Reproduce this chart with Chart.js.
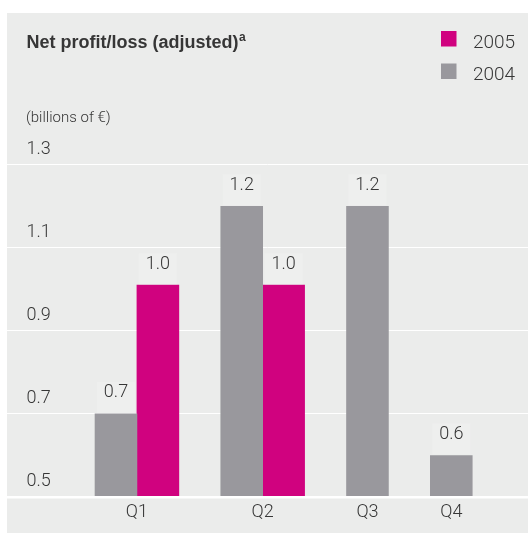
<!DOCTYPE html>
<html>
<head>
<meta charset="utf-8">
<title>Net profit/loss (adjusted)</title>
<script src="https://cdn.jsdelivr.net/npm/chart.js@4/dist/chart.umd.min.js"></script>
<style>
  html, body { margin: 0; padding: 0; background: #ffffff; }
  canvas { display: block; }
</style>
</head>
<body>
<canvas id="myChart" width="528" height="533"></canvas>
<script>
// chart data
var quarters = ["Q1", "Q2", "Q3", "Q4"];
var years = ["2004", "2005"];
var profit2004 = [0.7, 1.2, 1.2, 0.6];
var profit2005 = [1.01, 1.01, null, null];
var yTickValues = [0.5, 0.7, 0.9, 1.1, 1.3];

var titleText = "Net profit/loss (adjusted)";
var titleNote = "a";
var unitText = "(billions of \u20ac)";

var barColors = ["#99989d", "#d0027f"];
var panelColor = "#ebeceb";
var textColor = "#363636";
var labelFont = "Roboto, 'Liberation Sans', sans-serif";

// every quarter gets one slot per non-empty series, then one empty slot
var seriesValues = [profit2004, profit2005];
var barPoints = years.map(function () { return []; });
var quarterCenters = [];
var slot = 0;
quarters.forEach(function (q, i) {
  var first = slot;
  seriesValues.forEach(function (vals, s) {
    if (vals[i] !== null) {
      barPoints[s].push({ x: slot, y: vals[i] });
      slot++;
    }
  });
  quarterCenters.push((first + slot - 1) / 2);
  slot++;
});

var panelPlugin = {
  id: "panelPlugin",
  beforeDraw: function (chart) {
    var ctx = chart.ctx;
    ctx.save();
    ctx.fillStyle = panelColor;
    ctx.fillRect(7, 13, chart.width - 7, chart.height - 13);
    ctx.restore();
  },
  afterDatasetsDraw: function (chart) {
    var ctx = chart.ctx;
    ctx.save();
    chart.data.datasets.forEach(function (ds, di) {
      var meta = chart.getDatasetMeta(di);
      meta.data.forEach(function (bar, i) {
        ctx.fillStyle = "#eeefee";
        ctx.fillRect(bar.x - 19, bar.y - 32, 38, 31);
        ctx.fillStyle = textColor;
        ctx.font = "300 18px " + labelFont;
        ctx.textAlign = "center";
        ctx.textBaseline = "middle";
        ctx.fillText(ds.data[i].y.toFixed(1), bar.x, bar.y - 21);
      });
    });
    ctx.restore();
  },
  afterDraw: function (chart) {
    var ctx = chart.ctx;
    ctx.save();
    ctx.fillStyle = textColor;
    ctx.textBaseline = "alphabetic";
    ctx.textAlign = "left";

    // title with superscript note
    ctx.font = "bold 18px 'Liberation Sans', Arial, sans-serif";
    ctx.fillText(titleText, 26.5, 47.5);
    var w = ctx.measureText(titleText).width;
    ctx.font = "bold 12px 'Liberation Sans', Arial, sans-serif";
    ctx.fillText(titleNote, 26.5 + w + 0.5, 41);

    // unit
    ctx.font = "300 15px " + labelFont;
    ctx.fillText(unitText, 26, 122);

    // legend, newest year first
    var datasets = chart.data.datasets.slice().reverse();
    datasets.forEach(function (ds, i) {
      var y = 31 + i * 32.5;
      ctx.fillStyle = ds.backgroundColor;
      ctx.fillRect(441, y, 15.5, 15.5);
      ctx.fillStyle = textColor;
      ctx.font = "300 19px " + labelFont;
      ctx.fillText(ds.label, 473, y + 16.5);
    });
    ctx.restore();
  }
};

var ctx = document.getElementById("myChart").getContext("2d");

var myChart = new Chart(ctx, {
  type: "bar",
  data: {
    datasets: years.map(function (year, s) {
      return {
        label: year,
        data: barPoints[s],
        backgroundColor: barColors[s],
        borderWidth: 0
      };
    })
  },
  options: {
    responsive: false,
    animation: false,
    devicePixelRatio: 1,
    grouped: false,
    categoryPercentage: 1,
    barPercentage: 1,
    layout: {
      padding: { top: 164.7, left: 7, right: 0, bottom: 0 }
    },
    plugins: {
      legend: { display: false },
      tooltip: { enabled: false }
    },
    scales: {
      x: {
        type: "linear",
        offset: false,
        bounds: "data",
        min: -2.6,
        max: 9.83,
        grid: { display: false, drawTicks: false },
        border: { display: true, color: "#ffffff", width: 2.5, z: 1 },
        afterBuildTicks: function (scale) {
          scale.ticks = quarterCenters.map(function (v) { return { value: v }; });
        },
        afterFit: function (scale) {
          scale.height = 36;
        },
        ticks: {
          autoSkip: false,
          maxRotation: 0,
          padding: 5,
          color: textColor,
          font: { family: labelFont, size: 18, weight: 300 },
          callback: function (value, index) {
            return quarters[index];
          }
        }
      },
      y: {
        min: 0.5,
        max: 1.3,
        grid: { color: "#ffffff", lineWidth: 1, drawTicks: false },
        border: { display: false },
        afterBuildTicks: function (scale) {
          scale.ticks = yTickValues.map(function (v) { return { value: v }; });
        },
        afterFit: function (scale) {
          scale.width = 0;
        },
        ticks: {
          mirror: true,
          padding: 19.5,
          labelOffset: -15.5,
          color: textColor,
          font: { family: labelFont, size: 18, weight: 300 },
          callback: function (value) {
            return value.toFixed(1);
          }
        }
      }
    }
  },
  plugins: [panelPlugin]
});
</script>
</body>
</html>
